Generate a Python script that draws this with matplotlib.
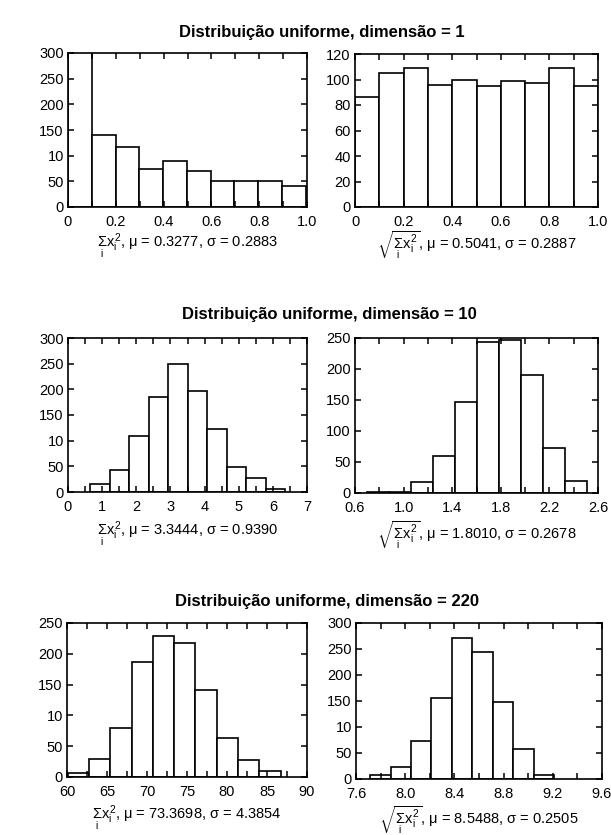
import numpy as np
import matplotlib
matplotlib.use("Agg")
import matplotlib.pyplot as plt
from matplotlib.ticker import MultipleLocator, FixedLocator, FixedFormatter

plt.rcParams['font.family'] = ['Liberation Sans', 'DejaVu Sans']
plt.rcParams['mathtext.fontset'] = 'custom'
plt.rcParams['mathtext.rm'] = 'Liberation Sans'
plt.rcParams['mathtext.it'] = 'Liberation Sans'
plt.rcParams['mathtext.bf'] = 'Liberation Sans:bold'

# ---- data: histogram counts and bin ranges for each panel ----
titles = ["Distribuição uniforme, dimensão = 1",
          "Distribuição uniforme, dimensão = 10",
          "Distribuição uniforme, dimensão = 220"]

# dimension 1
d1_sq_range = (0.0, 0.994)
d1_sq_counts = [316, 141, 117, 75, 90, 71, 50, 50, 50, 40]
d1_rt_range = (0.0, 1.0)
d1_rt_counts = [86, 105, 109, 96, 100, 95, 99, 97, 109, 95]

# dimension 10
d10_sq_range = (0.65, 6.37)
d10_sq_counts = [15, 43, 110, 186, 250, 196, 123, 48, 27, 5]
d10_rt_range = (0.698, 2.51)
d10_rt_counts = [2, 2, 18, 60, 146, 243, 247, 191, 72, 19]

# dimension 220
d220_sq_range = (60.08, 86.7)
d220_sq_counts = [7, 29, 79, 186, 229, 218, 141, 63, 27, 9]
d220_rt_range = (7.714, 9.213)
d220_rt_counts = [7, 24, 74, 155, 271, 245, 148, 58, 7]

# axis limits, tick values and tick labels
xlims = [(0, 1.0), (0, 1.0), (0, 7), (0.6, 2.6), (60, 90), (7.6, 9.6)]
xticks = [[0, 0.2, 0.4, 0.6, 0.8, 1.0],
          [0, 0.2, 0.4, 0.6, 0.8, 1.0],
          [0, 1, 2, 3, 4, 5, 6, 7],
          [0.6, 1.0, 1.4, 1.8, 2.2, 2.6],
          [60, 65, 70, 75, 80, 85, 90],
          [7.6, 8.0, 8.4, 8.8, 9.2, 9.6]]
xticklabels = [["0", "0.2", "0.4", "0.6", "0.8", "1.0"],
               ["0", "0.2", "0.4", "0.6", "0.8", "1.0"],
               ["0", "1", "2", "3", "4", "5", "6", "7"],
               ["0.6", "1.0", "1.4", "1.8", "2.2", "2.6"],
               ["60", "65", "70", "75", "80", "85", "90"],
               ["7.6", "8.0", "8.4", "8.8", "9.2", "9.6"]]
xminor = [0.1, 0.1, 0.5, 0.2, 2.5, 0.2]
ylims = [(0, 300), (0, 120), (0, 300), (0, 250), (0, 250), (0, 300)]
yticks = [[0, 50, 100, 150, 200, 250, 300],
          [0, 20, 40, 60, 80, 100, 120],
          [0, 50, 100, 150, 200, 250, 300],
          [0, 50, 100, 150, 200, 250],
          [0, 50, 100, 150, 200, 250],
          [0, 50, 100, 150, 200, 250, 300]]
yticklabels = [["0", "50", "10", "150", "200", "250", "300"],
               ["0", "20", "40", "60", "80", "100", "120"],
               ["0", "50", "10", "150", "200", "250", "300"],
               ["0", "50", "100", "150", "200", "250"],
               ["0", "50", "10", "150", "200", "250"],
               ["0", "50", "10", "150", "200", "250", "300"]]

stats = [(0.3277, 0.2883), (0.5041, 0.2887),
         (3.3444, 0.9390), (1.8010, 0.2678),
         (73.3698, 4.3854), (8.5488, 0.2505)]

hists = [(d1_sq_range, d1_sq_counts), (d1_rt_range, d1_rt_counts),
         (d10_sq_range, d10_sq_counts), (d10_rt_range, d10_rt_counts),
         (d220_sq_range, d220_sq_counts), (d220_rt_range, d220_rt_counts)]

# ---- layout (pixel boxes: left, right, top, bottom) ----
W, H = 611, 835
boxes = [(68, 307, 53, 207), (355, 598, 54, 207),
         (68, 307, 338, 492), (355, 598, 338, 493),
         (67, 307, 623, 777), (356, 602, 623, 779)]
label_baselines = [248, 249, 536, 539, 820, 824]
title_pos = [(322, 37), (329, 319), (327, 606)]

fig = plt.figure(figsize=(W / 100, H / 100), dpi=100)
fig.patch.set_facecolor('white')

sum_txt = r"$\underset{i}{\Sigma}x_i^2$"
sqrt_txt = r"$\sqrt{\underset{i}{\Sigma}x_i^2}$"

for k, ((rng, counts), box) in enumerate(zip(hists, boxes)):
    l, r, t, b = box
    ax = fig.add_axes([l / W, 1 - b / H, (r - l) / W, (b - t) / H])
    n = len(counts)
    edges = np.linspace(rng[0], rng[1], n + 1)
    ax.bar(edges[:-1], counts, width=np.diff(edges), align='edge',
           facecolor='white', edgecolor='black', linewidth=1.2)
    ax.set_xlim(*xlims[k])
    ax.set_ylim(*ylims[k])
    ax.xaxis.set_major_locator(FixedLocator(xticks[k]))
    ax.xaxis.set_major_formatter(FixedFormatter(xticklabels[k]))
    ax.xaxis.set_minor_locator(MultipleLocator(xminor[k]))
    ax.yaxis.set_major_locator(FixedLocator(yticks[k]))
    ax.yaxis.set_major_formatter(FixedFormatter(yticklabels[k]))
    ax.tick_params(which='both', direction='in', top=True, right=True,
                   length=4, width=1.1, labelsize=10.5, colors='black')
    ax.tick_params(axis='x', which='major', pad=5.5)
    ax.tick_params(axis='y', which='major', pad=3)
    for s in ax.spines.values():
        s.set_linewidth(1.2)
    mu, sd = stats[k]
    head = sum_txt if k % 2 == 0 else sqrt_txt
    ax.set_xlabel(f"{head}, μ = {mu:.4f}, σ = {sd:.4f}", fontsize=10.5,
                  va='baseline')
    ax.xaxis.set_label_coords(0.5, -(label_baselines[k] - b) / (b - t))

for (x, y), title in zip(title_pos, titles):
    fig.text(x / W, 1 - y / H, title, ha='center', va='baseline',
             fontsize=12, fontweight='bold')

fig.savefig("out.png", dpi=100, facecolor='white')
